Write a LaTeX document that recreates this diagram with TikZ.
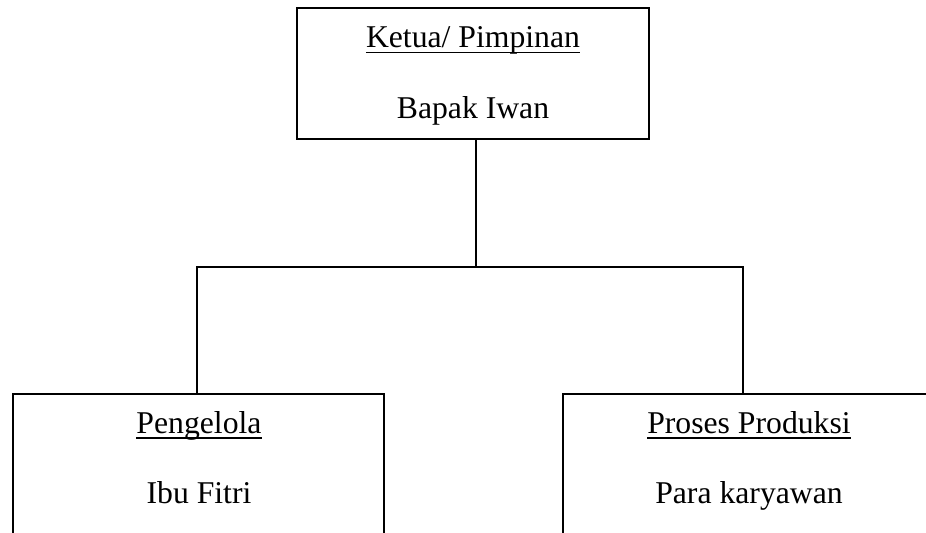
\documentclass[tikz,border=0pt]{standalone}
\usepackage{fontspec}
\setmainfont{Liberation Serif}
\begin{document}
\begin{tikzpicture}[x=1bp,y=-1bp,
  box/.style={draw=black, line width=1.8bp, inner sep=0pt},
  lbl/.style={anchor=base, inner sep=0pt, font=\fontsize{31.7bp}{38bp}\selectfont},
  conn/.style={draw=black, line width=1.8bp},
  ul/.style={draw=black, line width=1.5bp}]
\useasboundingbox (0,0) rectangle (926,533);
\clip (0,0) rectangle (926,533);
% boxes
\node[box, minimum width=352bp, minimum height=131bp] (top) at (473,73.8) {};
\node[box, minimum width=371bp, minimum height=260bp] (left) at (198.5,524) {};
\node[box, minimum width=372bp, minimum height=260bp] (right) at (749,524) {};
% texts
\node[lbl] (t1) at (473,48) {Ketua/ Pimpinan};
\node[lbl] (t2) at (473,119) {Bapak Iwan};
\node[lbl] (l1) at (199,433) {Pengelola};
\node[lbl] (l2) at (199,503) {Ibu Fitri};
\node[lbl] (r1) at (749,433) {Proses Produksi};
\node[lbl] (r2) at (749,503) {Para karyawan};
% underlines
\draw[ul] ([yshift=-4.5bp]t1.base west) -- ([yshift=-4.5bp]t1.base east);
\draw[ul] ([yshift=-5bp]l1.base west) -- ([yshift=-5bp]l1.base east);
\draw[ul] ([yshift=-5bp]r1.base west) -- ([yshift=-5bp]r1.base east);
% connectors
\coordinate (j) at (476,267);
\coordinate (jl) at (197,267);
\coordinate (jr) at (743,267);
\draw[conn] (top.south -| j) -- (j);
\draw[conn] (jl |- left.north) -- (jl) -- (jr) -- (jr |- right.north);
\end{tikzpicture}
\end{document}
